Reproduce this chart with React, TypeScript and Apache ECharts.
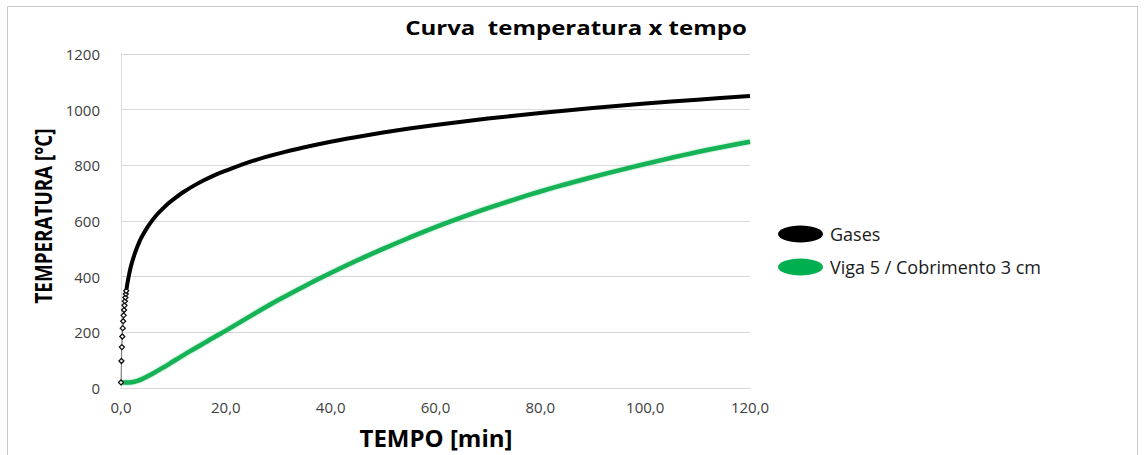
import React, { useEffect, useRef } from "react";
import * as echarts from "echarts";

// Gas temperature (fire curve), minutes vs °C
const tempoGases = [
  0, 0.0833, 0.1667, 0.25, 0.3333, 0.4167, 0.5, 0.5833, 0.6667, 0.75, 0.8333, 0.9167,
  1, 1.25, 1.5, 1.75, 2, 2.5, 3, 3.5, 4, 5, 6, 7, 8, 9, 10, 12, 14, 16, 18, 20,
  25, 30, 35, 40, 45, 50, 55, 60, 70, 80, 90, 100, 110, 120,
];
const temperaturaGases = [
  20, 97, 147, 185, 215, 240, 261, 280, 297, 312, 325, 338,
  349, 379, 404, 426, 445, 476, 502, 525, 544, 576, 603, 626, 645, 663, 678, 705, 728, 748, 766, 781,
  815, 842, 865, 885, 902, 918, 932, 945, 968, 988, 1006, 1022, 1036, 1049,
];

// Beam 5 with 3 cm cover
const tempoViga = [
  0, 1, 2, 3, 4, 5, 6, 8, 10, 12, 14, 16, 18, 20, 25, 30, 35, 40, 45, 50, 55, 60,
  65, 70, 75, 80, 85, 90, 95, 100, 105, 110, 115, 120,
];
const temperaturaViga = [
  20, 20, 21, 25, 32, 41, 51, 73, 96, 119, 141, 163, 185, 206, 262, 316, 366, 413, 458, 500, 540, 578,
  613, 646, 677, 706, 733, 758, 782, 805, 827, 848, 867, 885,
];

const xTicks = [0, 20, 40, 60, 80, 100, 120];
const yTicks = [0, 200, 400, 600, 800, 1000, 1200];

const NOME_GASES = "Gases";
const NOME_VIGA = "Viga 5 / Cobrimento 3 cm";

const ellipse = "path://M0,50a50,50 0 1,0 100,0a50,50 0 1,0 -100,0";
const FONT = "Open Sans, Liberation Sans, sans-serif";

export default function App() {
  const ref = useRef<HTMLDivElement>(null);

  useEffect(() => {
    if (!ref.current) return;
    const chart = echarts.init(ref.current, undefined, { renderer: "svg" });

    const gases = tempoGases.map((t, i) => [t, temperaturaGases[i]]);
    const inicio = gases.filter((p) => (p[0] as number) <= 1);
    const corpo = gases.filter((p) => (p[0] as number) >= 0.9);
    const viga = tempoViga.map((t, i) => [t, temperaturaViga[i]]);

    chart.setOption({
      animation: false,
      backgroundColor: "#ffffff",
      grid: { left: 121, right: 394, top: 54, bottom: 67 },
      graphic: [
        {
          type: "rect",
          shape: { x: 7.5, y: 6.5, width: 1130, height: 470 },
          style: { fill: "none", stroke: "#c8c8c8", lineWidth: 1 },
          silent: true,
        },
        {
          type: "text",
          x: 576,
          y: 27,
          scaleX: 1.2,
          style: {
            text: "Curva  temperatura x tempo",
            font: `bold 20px ${FONT}`,
            fill: "#000000",
            align: "center",
            verticalAlign: "middle",
          },
        },
        {
          type: "text",
          x: 43,
          y: 216,
          rotation: Math.PI / 2,
          scaleX: 0.82,
          style: {
            text: "TEMPERATURA [°C]",
            font: `bold 23px ${FONT}`,
            fill: "#000000",
            align: "center",
            verticalAlign: "middle",
          },
        },
        {
          type: "text",
          x: 436,
          y: 437,
          style: {
            text: "TEMPO [min]",
            font: `bold 24px ${FONT}`,
            fill: "#000000",
            align: "center",
            verticalAlign: "middle",
          },
        },
      ],
      legend: {
        orient: "vertical",
        left: 773,
        top: 220,
        itemWidth: 45,
        itemHeight: 17,
        itemGap: 15,
        symbolKeepAspect: false,
        textStyle: { fontFamily: FONT, fontSize: 18, color: "#1a1a1a", padding: [0, 0, 0, 2] },
        data: [
          { name: NOME_GASES, icon: ellipse, itemStyle: { color: "#000000", borderWidth: 0 } },
          { name: NOME_VIGA, icon: ellipse, itemStyle: { color: "#00B050", borderWidth: 0 } },
        ],
      },
      xAxis: {
        type: "value",
        min: xTicks[0],
        max: xTicks[xTicks.length - 1],
        interval: xTicks[1] - xTicks[0],
        axisLine: { show: true, lineStyle: { color: "#d9d9d9", width: 1 } },
        axisTick: { show: false },
        splitLine: { show: false },
        axisLabel: {
          margin: 11,
          fontFamily: FONT,
          fontSize: 15,
          color: "#404040",
          formatter: (v: number) => v.toFixed(1).replace(".", ","),
        },
      },
      yAxis: {
        type: "value",
        min: yTicks[0],
        max: yTicks[yTicks.length - 1],
        interval: yTicks[1] - yTicks[0],
        axisLine: { show: true, lineStyle: { color: "#d9d9d9", width: 1 } },
        axisTick: { show: false },
        splitLine: { show: true, lineStyle: { color: "#d9d9d9", width: 1 } },
        axisLabel: {
          margin: 21,
          fontFamily: FONT,
          fontSize: 15,
          color: "#404040",
          formatter: (v: number) => String(v),
        },
      },
      series: [
        {
          name: NOME_VIGA,
          type: "line",
          data: viga,
          smooth: 0.3,
          showSymbol: false,
          lineStyle: { color: "#16b257", width: 4.5, shadowColor: "rgba(0,176,80,0.45)", shadowBlur: 2 },
          itemStyle: { color: "#00B050" },
          z: 2,
        },
        {
          name: NOME_GASES,
          type: "line",
          data: corpo,
          smooth: 0.3,
          showSymbol: false,
          lineStyle: { color: "#000000", width: 4 },
          itemStyle: { color: "#000000" },
          z: 3,
        },
        {
          name: NOME_GASES,
          type: "line",
          data: inicio,
          symbol: "diamond",
          symbolSize: 5,
          showSymbol: true,
          lineStyle: { color: "#555555", width: 0.8 },
          itemStyle: { color: "#ffffff", borderColor: "#111111", borderWidth: 1.3 },
          z: 4,
        },
      ],
    });

    return () => chart.dispose();
  }, []);

  return (
    <div
      ref={ref}
      style={{ position: "absolute", left: 0, top: 0, width: 1144, height: 455 }}
    />
  );
}
